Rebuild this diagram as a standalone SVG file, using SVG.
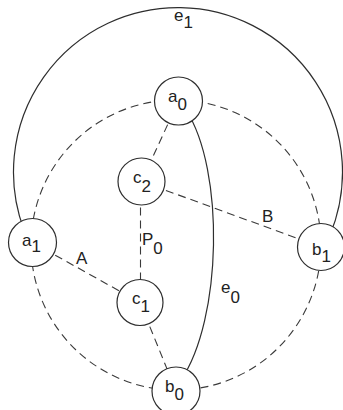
<svg xmlns="http://www.w3.org/2000/svg" width="343" height="410" viewBox="0 0 343 410">
  <style>
    .solid { fill: none; stroke: #2e2e2e; stroke-width: 1.2; }
    .dash { fill: none; stroke: #3a3a3a; stroke-width: 1.1; stroke-dasharray: 8 5; }
    .node { fill: #ffffff; stroke: #2e2e2e; stroke-width: 1.2; }
    text { font-family: "Liberation Sans", Arial, sans-serif; font-size: 17px; fill: #222; }
  </style>
  <rect width="343" height="410" fill="#ffffff"/>
  <g id="connectors">
    <circle class="dash" cx="176" cy="245" r="145"/>
    <path id="e1" class="solid" d="M 24 230 A 164.5 164.5 0 1 1 330 235"/>
    <path id="e0" class="solid" d="M 186 110 C 225 170, 222 320, 181 380"/>
    <line class="dash" x1="178.5" y1="101" x2="141.5" y2="181.5"/>
    <line class="dash" x1="141.5" y1="181.5" x2="321" y2="247" stroke-dasharray="7 5"/>
    <line class="dash" x1="140.5" y1="181.5" x2="140.5" y2="302.5" stroke-dasharray="7 5"/>
    <line class="dash" x1="32.5" y1="242.5" x2="140" y2="302.5" stroke-dasharray="7 5"/>
    <line class="dash" x1="140" y1="302.5" x2="176" y2="391" stroke-dasharray="7 5"/>
    <text x="174" y="21">e<tspan dy="7">1</tspan></text>
    <text x="221" y="293">e<tspan dy="10">0</tspan></text>
    <text x="142" y="245">P<tspan dy="9">0</tspan></text>
    <text x="76" y="264">A</text>
    <text x="262" y="222">B</text>
  </g>
  <g id="a0">
    <circle class="node" cx="178.5" cy="101" r="24"/>
    <text x="168" y="102">a<tspan dy="8">0</tspan></text>
  </g>
  <g id="c2">
    <circle class="node" cx="141.5" cy="181.5" r="23.5"/>
    <text x="133" y="183">c<tspan dy="9">2</tspan></text>
  </g>
  <g id="a1">
    <circle class="node" cx="32.5" cy="242.5" r="24"/>
    <text x="22" y="246">a<tspan dy="6">1</tspan></text>
  </g>
  <g id="b1">
    <circle class="node" cx="321" cy="247" r="23.5"/>
    <text x="312" y="255">b<tspan dy="7">1</tspan></text>
  </g>
  <g id="c1">
    <circle class="node" cx="140" cy="302.5" r="23"/>
    <text x="132" y="304">c<tspan dy="8">1</tspan></text>
  </g>
  <g id="b0">
    <circle class="node" cx="176" cy="391" r="24"/>
    <text x="165" y="392">b<tspan dy="8">0</tspan></text>
  </g>
</svg>
